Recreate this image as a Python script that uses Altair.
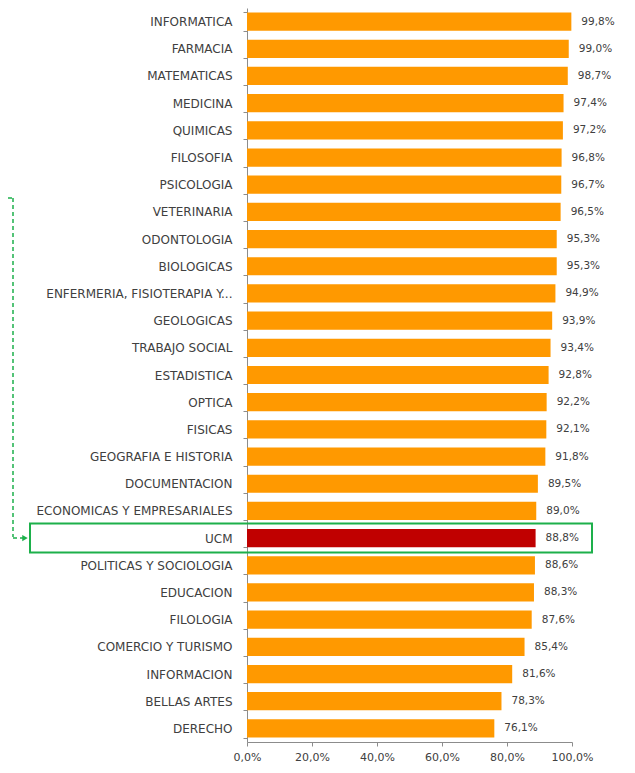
import altair as alt
import pandas as pd

categories = [
    "INFORMATICA", "FARMACIA", "MATEMATICAS", "MEDICINA", "QUIMICAS", "FILOSOFIA",
    "PSICOLOGIA", "VETERINARIA", "ODONTOLOGIA", "BIOLOGICAS",
    "ENFERMERIA, FISIOTERAPIA Y...", "GEOLOGICAS", "TRABAJO SOCIAL", "ESTADISTICA",
    "OPTICA", "FISICAS", "GEOGRAFIA E HISTORIA", "DOCUMENTACION",
    "ECONOMICAS Y EMPRESARIALES", "UCM", "POLITICAS Y SOCIOLOGIA", "EDUCACION",
    "FILOLOGIA", "COMERCIO Y TURISMO", "INFORMACION", "BELLAS ARTES", "DERECHO",
]
values = [
    99.8, 99.0, 98.7, 97.4, 97.2, 96.8, 96.7, 96.5, 95.3, 95.3,
    94.9, 93.9, 93.4, 92.8, 92.2, 92.1, 91.8, 89.5, 89.0, 88.8,
    88.6, 88.3, 87.6, 85.4, 81.6, 78.3, 76.1,
]
highlight = "UCM"
x_ticks = [0, 20, 40, 60, 80, 100]

df = pd.DataFrame({"cat": categories, "v": values})
df["hl"] = df["cat"] == highlight

FONT = "DejaVu Sans"
TXT = "#404040"
GREEN = "#1DB04B"

y_enc = alt.Y("cat:N", sort=categories, title=None,
              scale=alt.Scale(paddingInner=0.33, paddingOuter=0.165),
              axis=alt.Axis(tickBand="extent", tickSize=4, tickColor="#8c8c8c",
                            domainColor="#8c8c8c", labelPadding=11, labelLimit=400,
                            labelFont=FONT, labelFontSize=12, labelColor=TXT))
x_enc = alt.X("v:Q", title=None, scale=alt.Scale(domain=[0, 100], nice=False),
              axis=alt.Axis(values=x_ticks, grid=False, tickSize=4, tickColor="#8c8c8c",
                            domainColor="#8c8c8c", labelPadding=5, labelFont=FONT,
                            labelFontSize=11, labelColor=TXT, labelFlush=False,
                            labelExpr="replace(format(datum.value, '.1f'), '.', ',') + '%'"))

base = alt.Chart(df)

bars = base.mark_bar().encode(
    y=y_enc, x=x_enc,
    color=alt.Color("hl:N", scale=alt.Scale(domain=[False, True], range=["#FF9900", "#C00000"]),
                    legend=None),
)

labels = base.transform_calculate(
    lab="replace(format(datum.v, '.1f'), '.', ',') + '%'"
).mark_text(align="left", baseline="middle", dx=10, font=FONT, fontSize=10.5, color=TXT).encode(
    y=alt.Y("cat:N", sort=categories), x="v:Q", text="lab:N"
)

ucm = base.transform_filter(alt.datum.cat == highlight)

box = ucm.mark_bar(size=29, fill=None, fillOpacity=0, stroke=GREEN, strokeWidth=2).encode(
    y=alt.Y("cat:N", sort=categories), x=alt.value(-217), x2=alt.value(345)
)

seg1 = ucm.mark_rule(color=GREEN, strokeWidth=1.5, strokeDash=[4, 3]).encode(
    x=alt.value(-239), x2=alt.value(-234), y=alt.value(190)
)
seg2 = ucm.mark_rule(color=GREEN, strokeWidth=1.5, strokeDash=[4, 3]).encode(
    x=alt.value(-234), y=alt.value(190), y2=alt.value(529)
)
seg3 = ucm.mark_rule(color=GREEN, strokeWidth=1.5, strokeDash=[4, 3]).encode(
    x=alt.value(-234), x2=alt.value(-224), y=alt.Y("cat:N", sort=categories)
)
head = ucm.mark_point(shape="triangle-right", filled=True, color=GREEN, size=40, opacity=1).encode(
    x=alt.value(-222), y=alt.Y("cat:N", sort=categories)
)

chart = alt.layer(bars, labels, box, seg1, seg2, seg3, head).properties(
    width=325, height=734,
    autosize=alt.AutoSizeParams(type="none"),
    padding={"left": 239, "top": 0, "right": 50, "bottom": 22},
).configure_view(stroke=None)

chart.save("out.html", embed_options={"renderer": "svg", "actions": False})
